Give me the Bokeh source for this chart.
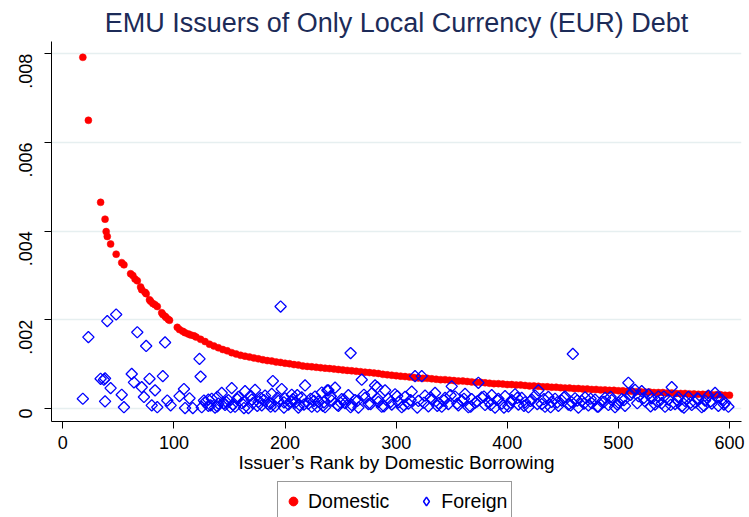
import numpy as np
from bokeh.plotting import figure
from bokeh.layouts import column
from bokeh.models import (ColumnDataSource, FixedTicker, Legend, LegendItem)
from bokeh.embed import file_html
from bokeh.resources import INLINE

# ---------------- data ----------------
title_text = "EMU Issuers of Only Local Currency (EUR) Debt"
x_label = "Issuer\u2019s Rank by Domestic Borrowing"
x_ticks = [0, 100, 200, 300, 400, 500, 600]
y_ticks = [0, 0.002, 0.004, 0.006, 0.008]
y_tick_labels = ["0", ".002", ".004", ".006", ".008"]
series_names = ["Domestic", "Foreign"]

dom_rank = [18, 23, 34, 38, 39, 40, 43, 48, 53, 55, 61, 63, 65, 67, 70, 71, 74, 75,
            78, 79, 81, 83, 85, 89, 90, 92, 93, 95, 96, 103, 105, 108, 110, 113, 115,
            118, 120,
            124, 128, 132, 136, 140, 144, 148, 152, 156, 160, 164, 168, 172, 176, 180,
            184, 188, 192, 196, 200, 204, 208, 212, 216, 220, 224, 228, 232, 236, 240,
            244, 248, 252, 256, 260, 264, 268, 272, 276, 280, 284, 288, 292, 296, 300,
            304, 308, 312, 316, 320, 324, 328, 332, 336, 340, 344, 348, 352, 356, 360,
            364, 368, 372, 376, 380, 384, 388, 392, 396, 400, 404, 408, 412, 416, 420,
            424, 428, 432, 436, 440, 444, 448, 452, 456, 460, 464, 468, 472, 476, 480,
            484, 488, 492, 496, 500, 504, 508, 512, 516, 520, 524, 528, 532, 536, 540,
            544, 548, 552, 556, 560, 564, 568, 572, 576, 580, 584, 588, 592, 596, 600]
dom_value = [0.00792, 0.00650, 0.00465, 0.00427, 0.00399, 0.00388, 0.00371, 0.00348,
             0.00329, 0.00324, 0.00304, 0.00300, 0.00292, 0.00288, 0.00274, 0.00268,
             0.00262, 0.00259, 0.00245, 0.00242, 0.00237, 0.00234, 0.00230, 0.00216,
             0.00212, 0.00208, 0.00205, 0.00201, 0.00199, 0.00183, 0.00178, 0.00174,
             0.00171, 0.00168, 0.00166, 0.00164, 0.00161,
             0.00156, 0.00151, 0.00145, 0.00141, 0.00137, 0.00133, 0.00130, 0.00126,
             0.00123, 0.00120, 0.00118, 0.00116, 0.00114, 0.00112, 0.00110, 0.00108,
             0.00107, 0.00105, 0.00104, 0.00102, 0.00101, 0.00099, 0.00098, 0.00096,
             0.00095, 0.00094, 0.00093, 0.00092, 0.00091, 0.00090, 0.00089, 0.00088,
             0.00087, 0.00086, 0.00085, 0.00084, 0.00083, 0.00082, 0.00081, 0.00080,
             0.00079, 0.00077, 0.00076, 0.00075, 0.00074, 0.00073, 0.00072, 0.00071,
             0.00070, 0.00069, 0.00068, 0.00068, 0.00067, 0.00066, 0.00065, 0.00065,
             0.00064, 0.00063, 0.00062, 0.00062, 0.00061, 0.00060, 0.00059, 0.00059,
             0.00058, 0.00057, 0.00056, 0.00056, 0.00055, 0.00054, 0.00054, 0.00053,
             0.00053, 0.00052, 0.00051, 0.00051, 0.00050, 0.00049, 0.00049, 0.00048,
             0.00048, 0.00047, 0.00046, 0.00046, 0.00045, 0.00045, 0.00044, 0.00044,
             0.00043, 0.00043, 0.00042, 0.00042, 0.00041, 0.00041, 0.00040, 0.00040,
             0.00039, 0.00039, 0.00038, 0.00038, 0.00037, 0.00037, 0.00036, 0.00036,
             0.00036, 0.00035, 0.00035, 0.00034, 0.00034, 0.00034, 0.00033, 0.00033,
             0.00032, 0.00032, 0.00032, 0.00031, 0.00031, 0.00031, 0.00030, 0.00030]

for_rank = [18, 23, 34, 37, 38, 38, 40, 43, 48, 53, 55, 62, 64, 67, 71, 73, 75, 78,
            80, 83, 85, 90, 92, 94, 97, 105, 109, 110, 114, 117, 123, 124,
            131, 139, 147, 153, 163, 171, 178, 187, 189, 196, 199, 207, 213, 226, 234,
            238, 241, 250, 259, 283, 459,
            125, 128, 131, 134, 137, 140, 143, 146, 149, 152, 155, 158, 161, 164, 167,
            170, 173, 176, 179, 182, 185, 188, 191, 194, 197, 200, 203, 206, 209, 212,
            215, 218, 221, 224, 227, 230, 233, 236, 239, 242, 245, 248, 251, 254, 257,
            260, 263, 266, 269, 272, 275, 278, 281, 284, 287, 290, 293, 296, 299, 302,
            305, 308, 311, 314, 317, 320, 323, 326, 329, 332, 335, 338, 341, 344, 347,
            350, 353, 356, 359, 362, 365, 368, 371, 374, 377, 380, 383, 386, 389, 392,
            395, 398, 401, 404, 407, 410, 413, 416, 419, 422, 425, 428, 431, 434, 437,
            440, 443, 446, 449, 452, 455, 458, 461, 464, 467, 470, 473, 476, 479, 482,
            485, 488, 491, 494, 497, 500, 503, 506, 509, 512, 515, 518, 521, 524, 527,
            530, 533, 536, 539, 542, 545, 548, 551, 554, 557, 560, 563, 566, 569, 572,
            575, 578, 581, 584, 587, 590, 593, 596, 599]
for_value = [0.00022, 0.00161, 0.00067, 0.00065, 0.00068, 0.00016, 0.00197, 0.00046,
             0.00212, 0.00031, 0.00003, 0.00078, 0.00059, 0.00172, 0.00048, 0.00026,
             0.00141, 0.00067, 0.00007, 0.00041, 0.00003, 0.00073, 0.00149, 0.00018,
             0.00007, 0.00028, 0.00044, 0.00001, 0.00023, 0.00001, 0.00112, 0.00072,
             0.00020, 0.00005, 0.00015, 0.00009, 0.00001, 0.00012, 0.00024, 0.00004,
             0.00062, 0.00230, 0.00014, 0.00021, 0.00008, 0.00017, 0.00006, 0.00041,
             0.00028, 0.00013, 0.00125, 0.00048, 0.00123,
             0.00003, 0.00014, 0.00006, 0.00022, 0.00002, 0.00011, 0.00035, 0.00008,
             0.00019, 0.00046, 0.00004, 0.00026, 0.00012, 0.00039, 0.00001, 0.00020,
             0.00042, 0.00015, 0.00007, 0.00029, 0.00010, 0.00033, 0.00005, 0.00017,
             0.00044, 0.00023, 0.00009, 0.00031, 0.00013, 0.00002, 0.00025, 0.00052,
             0.00011, 0.00004, 0.00027, 0.00016, 0.00036, 0.00003, 0.00041, 0.00018,
             0.00047, 0.00006, 0.00021, 0.00012, 0.00030, 0.00008, 0.00019, 0.00002,
             0.00065, 0.00024, 0.00010, 0.00034, 0.00052, 0.00015, 0.00004, 0.00041,
             0.00022, 0.00009, 0.00032, 0.00014, 0.00003, 0.00026, 0.00011, 0.00038,
             0.00073, 0.00017, 0.00073, 0.00029, 0.00005, 0.00020, 0.00035, 0.00012,
             0.00004, 0.00024, 0.00010, 0.00050, 0.00027, 0.00007, 0.00018, 0.00033,
             0.00003, 0.00021, 0.00013, 0.00058, 0.00025, 0.00008, 0.00016, 0.00030,
             0.00002, 0.00022, 0.00011, 0.00028, 0.00005, 0.00019, 0.00032, 0.00009,
             0.00024, 0.00014, 0.00003, 0.00020, 0.00029, 0.00041, 0.00010, 0.00004,
             0.00026, 0.00015, 0.00022, 0.00006, 0.00018, 0.00027, 0.00009, 0.00014,
             0.00023, 0.00002, 0.00017, 0.00025, 0.00007, 0.00012, 0.00020, 0.00004,
             0.00015, 0.00024, 0.00008, 0.00019, 0.00003, 0.00013, 0.00021, 0.00006,
             0.00058, 0.00036, 0.00042, 0.00028, 0.00039, 0.00016, 0.00032, 0.00023,
             0.00009, 0.00027, 0.00012, 0.00004, 0.00020, 0.00048, 0.00010, 0.00025,
             0.00005, 0.00017, 0.00026, 0.00008, 0.00014, 0.00022, 0.00003, 0.00018,
             0.00029, 0.00011, 0.00035, 0.00006, 0.00020, 0.00013, 0.00004]

# further foreign issuers in the dense low band (rank, value)
for_extra = [(127, 0.00018), (133, 0.00007), (139, 0.00026), (145, 0.00012),
             (151, 0.00003), (157, 0.00021), (163, 0.00015), (169, 0.00029),
             (175, 0.00006), (181, 0.00019), (187, 0.00011), (193, 0.00024),
             (199, 0.00002), (205, 0.00016), (211, 0.00030), (217, 0.00009),
             (223, 0.00022), (229, 0.00004), (235, 0.00014), (241, 0.00027),
             (247, 0.00008), (253, 0.00020), (259, 0.00003), (265, 0.00017),
             (271, 0.00031), (277, 0.00010), (283, 0.00023), (289, 0.00005),
             (295, 0.00015), (301, 0.00028), (307, 0.00007), (313, 0.00019),
             (319, 0.00002), (325, 0.00013), (331, 0.00025), (337, 0.00006),
             (343, 0.00018), (349, 0.00030), (355, 0.00011), (361, 0.00022),
             (367, 0.00004), (373, 0.00016), (379, 0.00027), (385, 0.00008),
             (391, 0.00019), (397, 0.00002), (403, 0.00013), (409, 0.00024),
             (415, 0.00006), (421, 0.00017), (427, 0.00010), (433, 0.00021),
             (439, 0.00003), (445, 0.00014), (451, 0.00025), (457, 0.00007),
             (463, 0.00018), (469, 0.00011), (475, 0.00022), (481, 0.00004),
             (487, 0.00015), (493, 0.00026), (499, 0.00009), (505, 0.00019),
             (511, 0.00031), (517, 0.00012), (523, 0.00024), (529, 0.00005),
             (535, 0.00016), (541, 0.00027), (547, 0.00008), (553, 0.00019),
             (559, 0.00002), (565, 0.00013), (571, 0.00023), (577, 0.00006),
             (583, 0.00016), (589, 0.00025), (595, 0.00009)]

# ---------------- main figure ----------------
FONT = "Liberation Sans"
RED = "#ff0000"
BLUE = "#0000ff"
p = figure(width=749, height=480, output_backend="svg", toolbar_location=None,
           x_range=(-10.2, 610.8), y_range=(-0.000293, 0.008277),
           min_border_left=51, min_border_right=8, min_border_top=41,
           min_border_bottom=59)
p.outline_line_color = None
p.background_fill_color = "white"
p.border_fill_color = "white"

p.title.text = title_text
p.title.align = "center"
p.title.text_font = FONT
p.title.text_font_size = "27px"
p.title.text_font_style = "normal"
p.title.text_color = "#1c2b58"
p.title.standoff = 8

all_for_rank = for_rank + [r for r, v in for_extra]
all_for_value = for_value + [v for r, v in for_extra]
dom_src = ColumnDataSource(dict(rank=dom_rank, value=dom_value))
for_src = ColumnDataSource(dict(rank=all_for_rank, value=all_for_value))

p.scatter(x="rank", y="value", source=dom_src, marker="circle", size=7,
          fill_color=RED, line_color=RED, line_width=0.5)
p.scatter(x="rank", y="value", source=for_src, marker="square", angle=np.pi / 4,
          size=8, fill_color=None, line_color=BLUE, line_width=1.3)

p.xaxis.ticker = FixedTicker(ticks=x_ticks)
p.yaxis.ticker = FixedTicker(ticks=y_ticks)
p.yaxis.major_label_overrides = {t: l for t, l in zip(y_ticks, y_tick_labels)}
p.yaxis.major_label_orientation = np.pi / 2
for ax in (p.xaxis[0], p.yaxis[0]):
    ax.axis_line_color = "black"
    ax.axis_line_width = 1
    ax.major_tick_line_color = "black"
    ax.major_tick_out = 7
    ax.major_tick_in = 0
    ax.minor_tick_line_color = None
    ax.major_label_text_font = FONT
    ax.major_label_text_font_size = "18px"
    ax.major_label_text_color = "black"
p.yaxis.major_label_standoff = 19
p.xaxis.major_label_standoff = 7
p.xaxis.axis_label = x_label
p.xaxis.axis_label_text_font = FONT
p.xaxis.axis_label_text_font_size = "19px"
p.xaxis.axis_label_text_font_style = "normal"
p.xaxis.axis_label_text_color = "black"
p.xaxis.axis_label_standoff = 0

p.xgrid.grid_line_color = None
p.ygrid.ticker = FixedTicker(ticks=y_ticks)
p.ygrid.grid_line_color = "#e6eff0"
p.ygrid.grid_line_width = 1.3

# ---------------- legend strip ----------------
lg = figure(width=749, height=37, output_backend="svg", toolbar_location=None,
            x_range=(0, 1), y_range=(0, 1), x_axis_location=None,
            y_axis_location=None, min_border=0)
lg.outline_line_color = None
lg.xgrid.grid_line_color = None
lg.ygrid.grid_line_color = None
offscreen = ColumnDataSource(dict(x=[-5], y=[-5]))
g_dom = lg.scatter(x="x", y="y", source=offscreen, marker="circle", size=7,
                   fill_color=RED, line_color=RED)
g_for = lg.scatter(x="x", y="y", source=offscreen, marker="diamond", size=15,
                   fill_color=None, line_color=BLUE, line_width=1.5)
legend = Legend(items=[LegendItem(label=series_names[0], renderers=[g_dom]),
                       LegendItem(label=series_names[1], renderers=[g_for])],
                orientation="horizontal", location=(226, -4))
legend.label_text_font = FONT
legend.label_text_font_size = "19.5px"
legend.label_text_color = "black"
legend.border_line_color = "#333333"
legend.border_line_width = 1
legend.background_fill_color = "white"
legend.background_fill_alpha = 1
legend.padding = 4
legend.spacing = 26
legend.glyph_width = 22
legend.glyph_height = 22
legend.label_standoff = 4
legend.label_height = 30
legend.margin = 0
lg.add_layout(legend, "center")

layout = column(p, lg, spacing=0)
open("out.html", "w").write(file_html(layout, INLINE))
